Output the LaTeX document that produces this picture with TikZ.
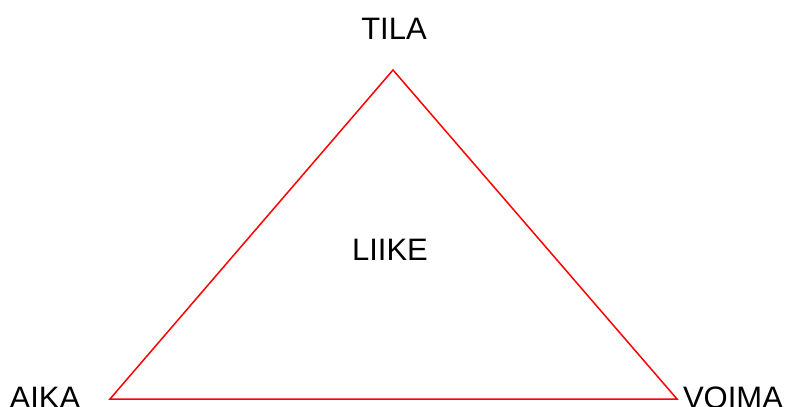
\documentclass[tikz,border=0pt]{standalone}
\usepackage{fontspec}
\setmainfont{Liberation Sans}
\begin{document}
\begin{tikzpicture}[x=1pt,y=-1pt,
  lbl/.style={anchor=base,inner sep=0pt,font=\fontsize{31}{31}\selectfont},
  edge/.style={draw=red,line width=1.5pt,line join=miter}]
\useasboundingbox (0,0) rectangle (785,407);
\coordinate (top) at (393,70);
\coordinate (left) at (110,399);
\coordinate (right) at (677,399);
\draw[edge] (top) -- (left) -- (right) -- cycle;
\node[lbl] (tila) at (394,39.5) {TILA};
\node[lbl] (liike) at (390,260.5) {LIIKE};
\node[lbl] (aika) at (45,408) {AIKA};
\node[lbl] (voima) at (733,408) {VOIMA};
\end{tikzpicture}
\end{document}
